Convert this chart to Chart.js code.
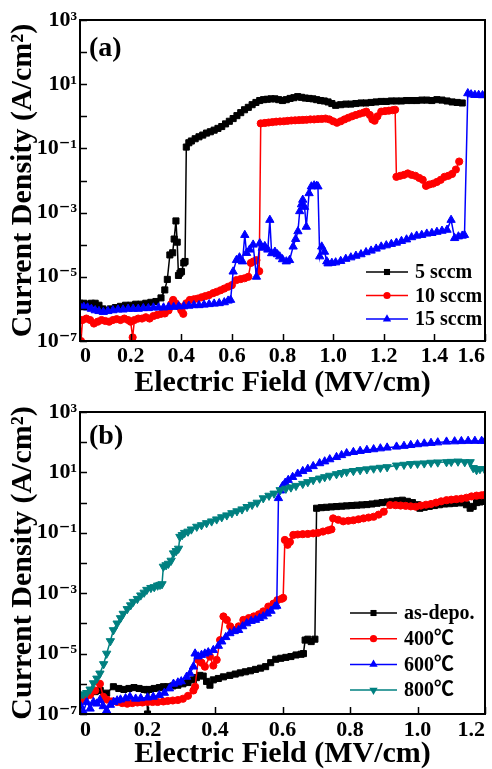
<!DOCTYPE html>
<html><head><meta charset="utf-8">
<script src="https://cdn.jsdelivr.net/npm/chart.js@4/dist/chart.umd.min.js"></script>
<style>
html,body{margin:0;padding:0;background:#fff;overflow:hidden;width:492px;height:769px;}
canvas{position:absolute;left:0;}
#ca{top:0;}
#cb{top:385px;}
</style></head><body>
<canvas id="ca" width="492" height="400"></canvas>
<canvas id="cb" width="492" height="384"></canvas>
<script>
// ---------- tick labels ----------
const X_TICKS_A = [0, 0.2, 0.4, 0.6, 0.8, 1.0, 1.2, 1.4, 1.6];
const X_TICKS_B = [0, 0.2, 0.4, 0.6, 0.8, 1.0, 1.2];
const Y_EXPONENTS = [-7, -6, -5, -4, -3, -2, -1, 0, 1, 2, 3];
const X_TITLE = 'Electric Field (MV/cm)';
const Y_TITLE = 'Current Density (A/cm²)';

// ---------- panel (a) ----------
const A_LABELS = ['5 sccm', '10 sccm', '15 sccm'];
const A_X_5 = [0,0.015,0.03,0.045,0.06,0.075,0.09,0.10,
  0.12,0.14,0.16,0.18,0.20,0.22,0.24,0.26,0.28,0.30,
  0.32,0.335,0.345,0.355,0.366,0.372,0.379,0.384,0.389,0.395,0.401,0.41,0.415,0.42,0.43,0.44,
  0.455,0.47,0.485,0.50,0.515,0.53,0.545,0.56,0.575,0.59,0.605,0.62,0.635,0.65,0.665,0.68,0.695,0.71,0.725,0.74,0.755,0.77,0.785,0.80,0.815,0.83,0.845,0.86,0.875,0.89,0.905,0.92,0.935,0.95,0.965,0.98,0.995,
  1.01,
  1.03,1.05,1.07,1.09,1.11,1.13,1.15,1.17,1.19,1.21,1.23,1.25,1.27,1.29,1.31,1.33,1.35,1.37,1.39,1.41,1.43,1.45,1.47,1.49,
  1.51];
const A_Y_5 = [1.5e-6,1.5e-6,1.4e-6,1.5e-6,1.5e-6,1.3e-6,1.0e-6,9e-7,
  1.0e-6,1.1e-6,1.2e-6,1.3e-6,1.3e-6,1.4e-6,1.4e-6,1.5e-6,1.6e-6,1.7e-6,
  2.2e-6,3.9e-6,8.3e-6,4.8e-5,5.6e-5,1.5e-4,5.5e-4,1.2e-4,1.1e-5,1.3e-5,1.45e-5,2.7e-5,3e-5,0.11,0.15,0.17,
  0.2,0.23,0.26,0.3,0.33,0.37,0.42,0.48,0.58,0.7,0.85,1.05,1.3,1.6,1.9,2.3,2.7,3.1,3.3,3.4,3.5,3.5,3.3,3.1,3.3,3.6,3.8,4.1,3.9,3.7,3.6,3.5,3.3,3.1,3.0,2.8,2.5,
  2.2,
  2.3,2.4,2.4,2.5,2.6,2.6,2.7,2.8,2.9,2.9,3.0,3.0,3.0,3.1,3.1,3.1,3.2,3.2,3.1,3.3,3.2,3.0,2.8,2.7,
  2.6];
const A_X_10 = [0,0.004,0.01,
  0.025,0.04,0.055,0.07,0.085,0.10,0.115,0.13,0.145,0.16,0.175,0.19,
  0.20,0.208,0.215,
  0.23,0.245,0.26,0.275,0.29,0.305,0.32,0.335,0.35,
  0.36,0.368,0.378,0.39,0.40,0.408,0.42,0.434,
  0.45,0.465,0.48,0.495,0.51,0.526,0.54,0.555,0.57,0.585,0.60,0.618,0.635,0.65,0.665,
  0.675,0.685,0.697,0.708,0.714,
  0.73,0.745,0.76,0.775,0.79,0.805,0.82,0.835,0.85,0.865,0.88,0.895,0.91,0.925,0.94,0.955,0.97,0.985,1.0,1.015,1.03,1.045,1.06,1.075,1.09,1.105,1.12,
  1.131,1.145,1.155,1.164,1.175,1.19,1.205,1.22,1.235,1.245,
  1.25,1.265,1.28,1.295,1.31,1.325,1.34,1.354,1.367,
  1.38,1.395,1.41,1.425,1.44,1.455,1.47,1.485,1.498];
const A_Y_10 = [4.5e-7,1e-7,4.5e-7,
  5e-7,4.5e-7,3.5e-7,4e-7,4.5e-7,4.2e-7,4e-7,4.5e-7,4.8e-7,4.5e-7,5e-7,4.5e-7,
  4e-7,1.3e-7,4.5e-7,
  5e-7,5e-7,5.5e-7,5e-7,6e-7,6.5e-7,7e-7,7.2e-7,9e-7,
  1.4e-6,1.9e-6,1.5e-6,1.2e-6,9e-7,7e-7,1.5e-6,1.9e-6,
  2.0e-6,2.1e-6,2.3e-6,2.5e-6,2.7e-6,3.1e-6,3.4e-6,3.8e-6,4.3e-6,4.9e-6,5.5e-6,7.9e-6,8.5e-6,9e-6,1e-5,
  2.7e-5,3e-5,3.3e-5,1.5e-5,0.6,
  0.62,0.64,0.66,0.68,0.69,0.7,0.72,0.74,0.75,0.76,0.77,0.78,0.8,0.8,0.82,0.83,0.85,0.8,0.7,0.63,0.7,0.8,0.9,1.0,1.1,1.2,1.3,
  1.4,1.1,0.8,0.73,1.0,1.4,1.45,1.5,1.55,1.6,
  0.013,0.014,0.015,0.0166,0.015,0.014,0.012,0.0105,0.0068,
  0.0075,0.008,0.009,0.0105,0.013,0.014,0.016,0.022,0.039];
const A_X_15 = [0,0.015,0.03,0.045,0.06,0.075,0.092,
  0.11,0.13,0.15,0.17,0.19,0.21,0.23,0.25,0.27,0.29,0.31,0.33,0.35,0.37,0.39,0.41,0.43,0.45,0.47,0.49,0.51,0.53,0.55,0.57,
  0.585,0.595,0.605,0.618,0.63,0.642,0.651,0.658,0.67,0.684,0.697,0.71,0.72,0.73,0.742,0.75,0.757,0.77,0.78,0.789,0.80,
  0.815,0.828,0.842,0.852,0.861,0.868,0.875,0.88,0.887,0.894,0.905,0.914,0.925,0.935,0.94,0.947,0.955,0.966,0.975,0.98,0.995,
  1.01,1.03,1.05,1.07,1.09,1.11,1.13,1.15,1.17,1.19,1.21,1.23,1.25,1.27,1.29,1.31,1.33,1.35,1.37,1.39,1.41,1.43,1.45,
  1.466,1.48,1.495,1.51,1.519,1.532,1.545,1.56,1.575,1.59,1.6];
const A_Y_15 = [1.2e-6,1.15e-6,1.1e-6,1.0e-6,9e-7,8.5e-7,8e-7,
  8.5e-7,9e-7,9.5e-7,9.5e-7,1.0e-6,1.0e-6,1.0e-6,1.05e-6,1.05e-6,1.1e-6,1.1e-6,1.1e-6,1.15e-6,1.15e-6,1.2e-6,1.2e-6,1.25e-6,1.3e-6,1.3e-6,1.35e-6,1.4e-6,1.45e-6,1.5e-6,1.6e-6,
  1.8e-6,1.9e-6,1.45e-5,3.3e-5,4e-5,3e-5,2e-4,5.5e-5,7e-5,1e-4,1e-5,1.1e-4,8e-5,9e-5,7e-5,5.9e-4,5.4e-5,6e-5,5e-5,4.3e-5,3.5e-5,
  3e-5,3.3e-5,8.7e-5,1.5e-4,2.6e-4,1.1e-3,1.8e-3,2.5e-3,1.5e-3,3.6e-4,4e-3,6.5e-3,7e-3,6.8e-3,6.5e-3,4.3e-5,8.7e-5,6e-5,3e-5,2.6e-5,2.7e-5,
  2.8e-5,3.1e-5,3.6e-5,4.0e-5,4.5e-5,5.0e-5,5.8e-5,6.5e-5,7.5e-5,8.7e-5,9.5e-5,1.05e-4,1.15e-4,1.3e-4,1.45e-4,1.7e-4,1.9e-4,2.0e-4,2.2e-4,2.3e-4,2.5e-4,2.7e-4,2.9e-4,
  5.9e-4,1.6e-4,1.8e-4,1.9e-4,2e-4,5.2,4.8,4.6,4.6,4.5,4.6];

// ---------- panel (b) ----------
const B_LABELS = ['as-depo.', '400℃', '600℃', '800℃'];
const B_X_AS = [0,0.015,0.03,0.045,0.06,
  0.079,0.099,
  0.115,0.13,0.145,0.16,0.175,0.19,
  0.198,0.2,0.205,
  0.22,0.235,0.247,0.26,0.275,0.29,0.305,0.32,0.336,
  0.345,0.355,0.365,0.375,0.385,0.395,
  0.41,0.425,0.444,
  0.46,0.475,0.49,0.505,0.52,0.535,0.55,0.565,0.58,0.595,0.61,0.625,0.64,0.655,
  0.662,0.667,0.675,0.685,0.696,0.701,
  0.715,0.73,0.745,0.76,0.775,0.79,0.805,0.82,0.835,0.85,0.865,0.88,0.895,0.91,0.925,0.94,0.955,0.97,0.985,1.0,
  1.007,
  1.02,1.035,1.05,1.065,1.08,1.095,1.11,1.125,
  1.136,1.145,1.156,1.165,1.175,1.185,1.193,1.2];
const B_Y_AS = [3e-7,4e-7,5e-7,5.5e-7,6e-7,
  4.9e-7,8e-7,
  7e-7,6.5e-7,7e-7,7.5e-7,7e-7,6.5e-7,
  6.3e-7,1e-7,6.5e-7,
  7e-7,7.5e-7,8e-7,8e-7,8.5e-7,9e-7,1e-6,1.1e-6,1.35e-6,
  1.6e-6,1.9e-6,1.8e-6,1.2e-6,9e-7,1.35e-6,
  1.5e-6,1.7e-6,1.9e-6,
  2.1e-6,2.3e-6,2.5e-6,2.7e-6,3e-6,3.3e-6,3.7e-6,5e-6,6.5e-6,7e-6,7.5e-6,8e-6,9e-6,9.5e-6,
  1e-5,2.8e-5,3e-5,2.5e-5,3e-5,0.65,
  0.68,0.7,0.72,0.74,0.76,0.78,0.8,0.82,0.84,0.86,0.9,0.95,1.0,1.05,1.1,1.15,1.2,1.1,1.0,0.85,
  0.65,
  0.7,0.75,0.8,0.85,0.9,0.92,0.95,0.98,
  1.0,0.85,0.65,0.75,1.0,1.05,1.1,1.1];
const B_X_400 = [0,0.015,0.03,0.045,0.059,0.069,
  0.08,0.095,0.11,0.125,0.14,0.155,0.17,0.185,0.2,0.215,0.23,
  0.247,0.26,0.275,0.29,0.305,0.32,0.336,0.341,
  0.35,0.36,0.37,0.385,0.395,0.405,0.415,0.425,0.435,0.445,0.454,
  0.47,0.484,0.5,0.515,0.53,0.543,0.558,0.573,0.585,0.597,0.602,
  0.607,0.615,0.622,0.632,0.645,0.66,0.675,0.691,0.705,0.72,0.735,0.745,0.75,
  0.765,0.78,0.795,0.81,0.825,0.84,0.855,0.87,0.885,0.9,
  0.919,0.935,0.95,0.965,0.98,0.995,1.01,1.025,1.04,1.055,1.07,1.086,
  1.1,1.115,1.13,1.145,1.16,1.175,1.19,1.2];
const B_Y_400 = [2.6e-7,3.5e-7,4.3e-7,6e-7,1e-6,3.7e-7,
  3e-7,2.6e-7,2.5e-7,2.3e-7,2.2e-7,2.3e-7,2.4e-7,2.4e-7,2.5e-7,2.5e-7,2.5e-7,
  2.6e-7,2.7e-7,2.8e-7,2.9e-7,3.2e-7,4e-7,6e-7,8e-7,
  6.2e-6,5e-6,3.7e-6,8e-6,4e-6,6.2e-6,2.8e-5,1.7e-4,1.3e-4,8e-5,6e-5,
  8e-5,1.3e-4,1.5e-4,1.7e-4,2e-4,2.5e-4,3.6e-4,4.5e-4,5.9e-4,6.5e-4,7e-4,
  0.058,0.04,0.05,0.085,0.088,0.09,0.092,0.096,0.1,0.11,0.12,0.13,0.3,
  0.27,0.24,0.25,0.26,0.28,0.3,0.32,0.34,0.4,0.5,
  0.83,0.82,0.8,0.78,0.75,0.73,0.8,0.85,0.9,1.0,1.1,1.2,
  1.25,1.3,1.35,1.45,1.6,1.7,1.75,1.8];
const B_X_600 = [0,0.01,0.02,0.03,0.04,0.05,0.059,0.069,0.079,0.09,0.1,0.11,0.12,
  0.135,0.148,0.165,0.18,0.2,0.217,0.235,0.25,0.265,0.277,0.29,0.3,0.316,0.326,0.336,0.341,
  0.35,0.36,0.37,0.38,0.395,0.41,0.42,0.432,0.444,0.457,0.47,0.482,0.494,0.507,0.52,0.532,0.543,0.555,0.566,0.578,
  0.583,0.588,0.594,0.6,0.608,0.617,
  0.63,0.645,0.66,0.675,0.691,0.71,0.725,0.74,0.76,0.775,0.79,
  0.81,0.83,0.85,0.87,0.89,0.91,0.938,0.96,0.98,1.0,1.02,1.04,1.06,1.086,
  1.11,1.13,1.15,1.17,1.19,1.2];
const B_Y_600 = [2e-7,1.2e-7,2.5e-7,1.5e-7,2.5e-7,2.2e-7,2.9e-7,1.8e-7,1.3e-7,2e-7,2.5e-7,2.8e-7,3e-7,
  3.3e-7,3.7e-7,3.2e-7,3.3e-7,3.5e-7,3.7e-7,4.2e-7,5e-7,7e-7,1e-6,1.1e-6,1.2e-6,1.7e-6,2.2e-6,3.7e-6,1e-5,
  8e-6,9e-6,1e-5,1.1e-5,1.3e-5,1.8e-5,2.5e-5,3.5e-5,4.7e-5,5.5e-5,6e-5,8e-5,1e-4,1.2e-4,1.3e-4,1.5e-4,1.7e-4,2.1e-4,2.6e-4,3.6e-4,
  3.8e-4,1.4,2.5,3.5,4.5,5.6,
  7,9,11,13,16,20,23,27,32,37,43,
  47,51,55,58,62,66,71,75,80,85,90,94,98,104,
  106,108,110,110,110,110];
const B_X_800 = [0,0.01,0.02,0.03,0.04,0.05,0.059,0.07,0.079,0.09,0.099,0.11,0.12,0.128,
  0.14,0.15,0.158,0.17,0.18,0.19,0.198,0.21,0.22,0.23,0.237,0.243,0.247,
  0.255,0.262,0.27,0.277,0.285,0.292,0.296,0.303,0.31,0.32,0.33,0.346,
  0.36,0.375,0.39,0.405,0.42,0.435,0.45,0.465,0.48,0.495,0.51,0.525,0.543,
  0.56,0.575,0.593,0.61,0.625,0.64,0.66,0.675,0.691,0.71,0.725,0.74,0.76,0.775,0.79,
  0.81,0.83,0.85,0.87,0.89,0.91,0.938,0.96,0.98,1.0,1.02,1.04,1.06,1.086,
  1.1,1.12,1.14,1.156,1.165,1.175,1.185,1.2];
const B_Y_800 = [4e-7,4.5e-7,5e-7,6.5e-7,1.05e-6,1.5e-6,2.2e-6,4.5e-6,1e-5,2.6e-5,6e-5,1e-4,1.5e-4,2.1e-4,
  3e-4,4e-4,5.2e-4,6.5e-4,8.5e-4,1.05e-3,1.3e-3,1.5e-3,1.6e-3,1.8e-3,1.9e-3,2e-3,7.6e-3,
  8.5e-3,9.5e-3,0.012,0.021,0.025,0.03,0.074,0.085,0.1,0.11,0.13,0.16,
  0.18,0.21,0.24,0.28,0.33,0.38,0.45,0.52,0.6,0.72,0.85,1.0,1.4,
  1.7,2.0,2.6,2.9,3.2,3.6,4.2,4.8,5.6,6.3,7,7.8,8.8,9.6,10.5,
  11.2,12,12.7,13.5,14.3,15,17,18,19,19.5,20,21,21.5,22,
  22.5,23,22,22,14,12,13,12];

// ---------- rendering ----------
const SERIF = '"Liberation Serif","Times New Roman","DejaVu Serif",serif';
const LEGFONT = 'bold 20px "Liberation Serif","Noto Sans CJK SC",serif';
const SUP = {'-':'⁻','0':'⁰','1':'¹','2':'²','3':'³','4':'⁴','5':'⁵','6':'⁶','7':'⁷','8':'⁸','9':'⁹'};
function fmtY(v) {
  const e = Math.round(Math.log10(v));
  if (Math.abs(e % 2) !== 1) return '';
  return '10' + String(e).split('').map(c => SUP[c]).join('');
}
function fmtX(v) { return Math.abs(v) < 1e-9 ? '0' : v.toFixed(1); }

function drawMarker(ctx, style, r, rot, x, y, color) {
  ctx.fillStyle = color;
  ctx.beginPath();
  if (style === 'rect') { const s = r * Math.SQRT1_2; ctx.rect(x - s, y - s, 2 * s, 2 * s); }
  else if (style === 'circle') { ctx.arc(x, y, r, 0, Math.PI * 2); }
  else {
    let a = (rot || 0) * Math.PI / 180;
    ctx.moveTo(x + Math.sin(a) * r, y - Math.cos(a) * r);
    a += 2 * Math.PI / 3; ctx.lineTo(x + Math.sin(a) * r, y - Math.cos(a) * r);
    a += 2 * Math.PI / 3; ctx.lineTo(x + Math.sin(a) * r, y - Math.cos(a) * r);
    ctx.closePath();
  }
  ctx.fill();
}

function makeChart(id, cfg) {
  const n = cfg.series.length;
  const datasets = cfg.series.map((s, i) => ({
    label: s.label,
    data: s.xs.map((x, j) => ({x: x, y: s.ys[j]})),
    borderColor: s.color, backgroundColor: s.color, borderWidth: 1.5,
    pointStyle: s.style, pointRadius: s.r, pointRotation: s.rot || 0,
    pointBorderWidth: 1, pointBorderColor: s.color, pointBackgroundColor: s.color,
    order: n - i, tension: 0
  }));
  const frame = {
    id: 'frame',
    afterDraw(chart) {
      const {ctx, chartArea: a, scales: {x, y}} = chart;
      ctx.save();
      ctx.strokeStyle = '#000';
      ctx.lineWidth = 2;
      ctx.strokeRect(a.left, a.top, a.right - a.left, a.bottom - a.top);
      ctx.lineWidth = 1.5;
      ctx.beginPath();
      y.ticks.forEach(t => { const py = Math.round(y.getPixelForValue(t.value)) + 0.5; ctx.moveTo(a.left, py); ctx.lineTo(a.left + 7, py); });
      x.ticks.forEach(t => { const px = Math.round(x.getPixelForValue(t.value)) + 0.5; ctx.moveTo(px, a.bottom); ctx.lineTo(px, a.bottom - 7); });
      ctx.stroke();
      ctx.fillStyle = '#000';
      ctx.font = 'bold 28px ' + SERIF;
      ctx.textAlign = 'left';
      ctx.textBaseline = 'alphabetic';
      ctx.fillText(cfg.panel, a.left + 9, a.top + cfg.panelDy);
      // legend
      ctx.font = LEGFONT;
      ctx.textBaseline = 'middle';
      cfg.series.forEach((s, i) => {
        const ly = cfg.legY + i * cfg.legDy;
        ctx.strokeStyle = s.color; ctx.lineWidth = 1.5;
        ctx.beginPath(); ctx.moveTo(cfg.legX, ly); ctx.lineTo(cfg.legX + cfg.legW, ly); ctx.stroke();
        drawMarker(ctx, s.style, s.r, s.rot, cfg.legX + cfg.legW / 2, ly, s.color);
        ctx.fillStyle = '#000';
        ctx.fillText(s.label, cfg.legX + cfg.legW + 7, ly + 1);
      });
      ctx.restore();
    }
  };
  const tickFont = {family: SERIF, size: 22, weight: 'bold'};
  const titleFont = {family: SERIF, size: 30, weight: 'bold', lineHeight: 1};
  return new Chart(document.getElementById(id), {
    type: 'line',
    data: {datasets},
    options: {
      responsive: false, animation: false, devicePixelRatio: 1,
      layout: {padding: {left: 0, right: 7, top: cfg.top, bottom: 0}},
      plugins: {legend: {display: false}, tooltip: {enabled: false}},
      scales: {
        x: {
          type: 'linear', min: 0, max: cfg.xmax,
          afterBuildTicks: sc => { sc.ticks = cfg.xticks.map(v => ({value: v})); },
          afterFit: sc => { sc.height = cfg.xh; },
          grid: {display: false, drawTicks: false}, border: {display: false},
          ticks: {autoSkip: false, maxRotation: 0, align: 'inner', padding: cfg.xpad, color: '#000', font: tickFont, callback: v => fmtX(v)},
          title: {display: true, text: X_TITLE, color: '#000', font: titleFont, padding: {top: 0, bottom: cfg.xtpad}}
        },
        y: {
          type: 'logarithmic', min: 1e-7, max: 1e3,
          afterBuildTicks: sc => { sc.ticks = Y_EXPONENTS.map(e => ({value: Math.pow(10, e)})); },
          afterFit: sc => { sc.width = 80; },
          grid: {display: false, drawTicks: false}, border: {display: false},
          ticks: {autoSkip: false, padding: 3, color: '#000', font: tickFont, callback: v => fmtY(v)},
          title: {display: true, text: Y_TITLE, color: '#000', font: titleFont, padding: {top: 8, bottom: 0}}
        }
      }
    },
    plugins: [frame]
  });
}

makeChart('ca', {
  xmax: 1.6, xticks: X_TICKS_A, top: 20, xh: 59, xpad: 2, xtpad: 2,
  panel: '(a)', panelDy: 36,
  legX: 366, legW: 42, legY: 272, legDy: 23.5,
  series: [
    {label: A_LABELS[0], xs: A_X_5, ys: A_Y_5, color: '#000000', style: 'rect', r: 4.3},
    {label: A_LABELS[1], xs: A_X_10, ys: A_Y_10, color: '#ff0000', style: 'circle', r: 3.6},
    {label: A_LABELS[2], xs: A_X_15, ys: A_Y_15, color: '#0000ff', style: 'triangle', r: 4.8}
  ]
});
makeChart('cb', {
  xmax: 1.2, xticks: X_TICKS_B, top: 27, xh: 55, xpad: 3, xtpad: 0,
  panel: '(b)', panelDy: 32,
  legX: 350, legW: 47, legY: 228, legDy: 25.7,
  series: [
    {label: B_LABELS[0], xs: B_X_AS, ys: B_Y_AS, color: '#000000', style: 'rect', r: 4.3},
    {label: B_LABELS[1], xs: B_X_400, ys: B_Y_400, color: '#ff0000', style: 'circle', r: 3.6},
    {label: B_LABELS[2], xs: B_X_600, ys: B_Y_600, color: '#0000ff', style: 'triangle', r: 4.8},
    {label: B_LABELS[3], xs: B_X_800, ys: B_Y_800, color: '#008080', style: 'triangle', r: 4.8, rot: 180}
  ]
});
</script>
</body></html>
